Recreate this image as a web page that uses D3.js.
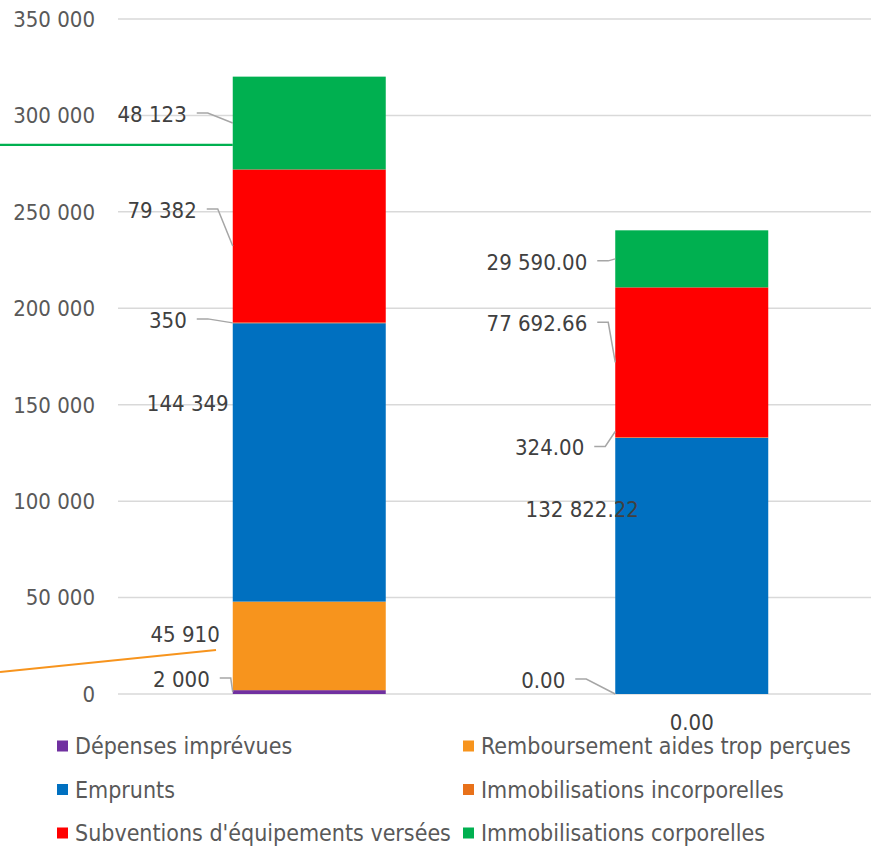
<!DOCTYPE html>
<html><head><meta charset="utf-8">
<script src="https://cdn.jsdelivr.net/npm/d3@7"></script>
<style>body{margin:0;background:#fff}svg{display:block}text{font-family:"DejaVu Sans Condensed","DejaVu Sans",sans-serif}</style>
</head><body>
<script>
// ---- data ----
const categories = ["A", "B"];
const categoryLabels = ["", "0.00"];
const seriesNames = ["Dépenses imprévues", "Remboursement aides trop perçues", "Emprunts",
  "Immobilisations incorporelles", "Subventions d'équipements versées", "Immobilisations corporelles"];
const seriesColors = ["#7030a0", "#f7941d", "#0070c0", "#e8711a", "#ff0000", "#00b050"];
const valuesA = [2000, 45910, 144349, 350, 79382, 48123];
const valuesB = [0, 0, 132822.22, 324, 77692.66, 29590];
const labelsA = ["2 000", "45 910", "144 349", "350", "79 382", "48 123"];
const labelsB = ["0.00", null, "132 822.22", "324.00", "77 692.66", "29 590.00"];
const yTicks = [0, 50000, 100000, 150000, 200000, 250000, 300000, 350000];

// ---- layout (label offsets relative to bar left edge / segment middle) ----
const layoutA = [
  {dx:-23, dy:-13, anchor:"end", leader:true},
  {dx:-13, dy:-12, anchor:"end", leader:false},
  {dx:-45, dy:-59, anchor:"middle", leader:false},
  {dx:-46, dy:-3, anchor:"end", leader:true},
  {dx:-36, dy:-36, anchor:"end", leader:true},
  {dx:-46, dy:-9, anchor:"end", leader:true}
];
const layoutB = [
  {dx:-50, dy:-14, anchor:"end", leader:true},
  null,
  {dx:-33, dy:-57, anchor:"middle", leader:false},
  {dx:-31, dy:10, anchor:"end", leader:true, endDy:-6},
  {dx:-28, dy:-39, anchor:"end", leader:true},
  {dx:-28, dy:3, anchor:"end", leader:true}
];

const W = 871, H = 846;
const svg = d3.select("body").append("svg").attr("width", W).attr("height", H);

const y = d3.scaleLinear().domain([0, 350000]).range([694, 19]);
const x = d3.scaleBand().domain(categories).range([118, 883]).paddingInner(0.6).paddingOuter(0.3);

// gridlines
svg.append("g").selectAll("line").data(yTicks).join("line")
  .attr("x1", 118).attr("x2", W).attr("y1", d => y(d)).attr("y2", d => y(d))
  .attr("stroke", "#d9d9d9").attr("stroke-width", 1.5);

// y tick labels
const fmt = v => d3.format(",")(v).replace(/,/g, " ");
svg.append("g").selectAll("text").data(yTicks).join("text")
  .attr("x", 95).attr("y", d => y(d)).attr("dy", "0.36em")
  .attr("text-anchor", "end").attr("fill", "#595959").attr("font-size", 22)
  .text(d => fmt(d));

// stacks
const table = categories.map((c, i) => {
  const row = {cat: c};
  const vals = i === 0 ? valuesA : valuesB;
  seriesNames.forEach((s, j) => row[s] = vals[j]);
  return row;
});
const stack = d3.stack().keys(seriesNames)(table);

svg.append("g").selectAll("g").data(stack).join("g")
  .attr("fill", (d, i) => seriesColors[i])
  .selectAll("rect").data(d => d).join("rect")
  .attr("x", d => x(d.data.cat)).attr("width", x.bandwidth())
  .attr("y", d => y(d[1])).attr("height", d => Math.max(0, y(d[0]) - y(d[1])));

// stray series lines seen in the reference
svg.append("line").attr("x1", 0).attr("x2", x("A")).attr("y1", y(284700)).attr("y2", y(284700))
  .attr("stroke", "#00b050").attr("stroke-width", 2.2);
svg.append("line").attr("x1", 0).attr("x2", 216).attr("y1", y(11400)).attr("y2", y(22800))
  .attr("stroke", "#f7941d").attr("stroke-width", 2.2);

// data labels
const gl = svg.append("g");
categories.forEach((c, ci) => {
  const labels = ci === 0 ? labelsA : labelsB;
  const lay = ci === 0 ? layoutA : layoutB;
  const left = x(c);
  stack.forEach((s, si) => {
    const L = lay[si];
    if (!L || labels[si] == null) return;
    const seg = s[ci];
    const mid = (y(seg[0]) + y(seg[1])) / 2;
    const tx = left + L.dx, ty = mid + L.dy;
    gl.append("text").attr("x", tx).attr("y", ty).attr("dy", "0.36em")
      .attr("text-anchor", L.anchor).attr("fill", "#404040").attr("font-size", 22)
      .text(labels[si]);
    if (L.leader) {
      const sx = tx + 10;
      gl.append("polyline")
        .attr("points", [[sx, ty - 1], [sx + 11, ty - 1], [left, mid + (L.endDy || 0)]].map(p => p.join(",")).join(" "))
        .attr("fill", "none").attr("stroke", "#a6a6a6").attr("stroke-width", 1.5);
    }
  });
});

// category axis labels
svg.append("g").selectAll("text").data(categories).join("text")
  .attr("x", d => x(d) + x.bandwidth() / 2).attr("y", 722).attr("dy", "0.36em")
  .attr("text-anchor", "middle").attr("fill", "#404040").attr("font-size", 22)
  .text((d, i) => categoryLabels[i]);

// legend
const lg = svg.append("g");
seriesNames.forEach((s, i) => {
  const col = i % 2, row = Math.floor(i / 2);
  const lx = col === 0 ? 57 : 463, ly = 746 + row * 43.5;
  lg.append("rect").attr("x", lx).attr("y", ly - 5.5).attr("width", 11).attr("height", 11).attr("fill", seriesColors[i]);
  lg.append("text").attr("x", lx + 18).attr("y", ly).attr("dy", "0.36em")
    .attr("fill", "#595959").attr("font-size", 23).text(s);
});
</script>
</body></html>
